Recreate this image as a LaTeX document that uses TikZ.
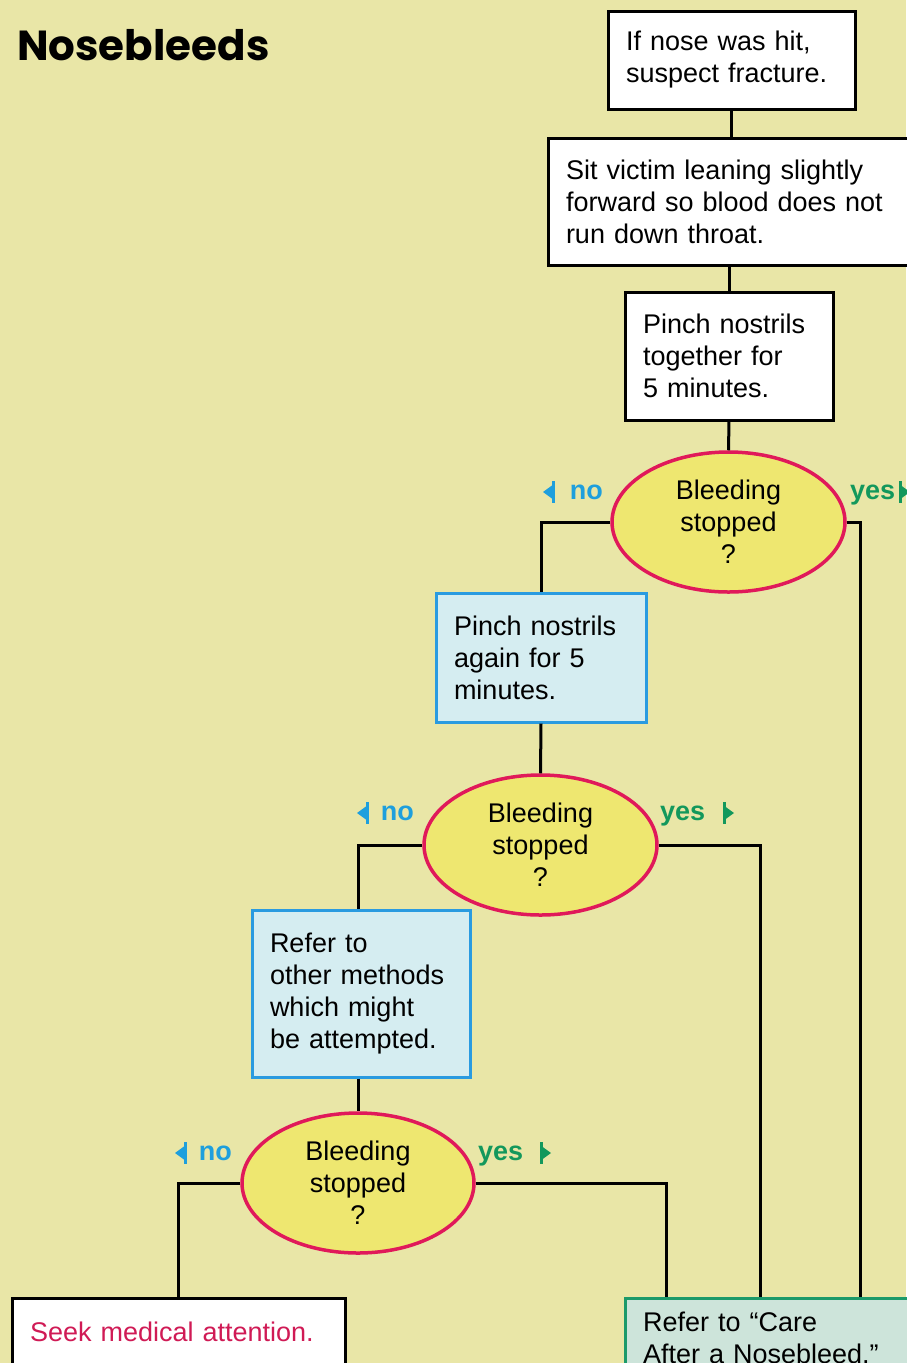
\documentclass[tikz,border=0pt]{standalone}
\usepackage{fontspec}
\setmainfont{Liberation Sans}
\newfontfamily\titlefont{Poppins}
\usetikzlibrary{shapes.geometric}
\definecolor{paper}{HTML}{E9E6A7}
\definecolor{qfill}{HTML}{EEE770}
\definecolor{qline}{HTML}{E0195A}
\definecolor{cyanfill}{HTML}{D5EDF1}
\definecolor{cyanline}{HTML}{2A9BE0}
\definecolor{greenfill}{HTML}{CDE4DA}
\definecolor{greenline}{HTML}{1C9A6A}
\definecolor{nocol}{HTML}{1E9FDD}
\definecolor{yescol}{HTML}{13985C}
\definecolor{alertcol}{HTML}{D01A55}
\tikzset{
  body/.style={font=\fontsize{27}{32}\selectfont},
  stepbox/.style={body, draw=black, line width=3pt, fill=white, align=left,
    inner xsep=18pt, inner ysep=0pt},
  altbox/.style={stepbox, draw=cyanline, fill=cyanfill},
  endbox/.style={stepbox, draw=greenline, fill=greenfill},
  question/.style={body, ellipse, draw=qline, line width=3.5pt, fill=qfill,
    inner sep=0pt, align=center},
  link/.style={line width=3pt, draw=black},
  answer/.style={font=\bfseries\fontsize{27}{32}\selectfont, inner sep=0pt},
  % small pointer drawn in front of "no" (left) and after "yes" (right)
  nomark/.pic={
    \fill[nocol] (0,0) -- (11,-8) -- (11,8) -- cycle;
    \draw[nocol, line width=3pt] (10,-11) -- (10,11);
  },
  yesmark/.pic={
    \fill[yescol] (0,0) -- (-11,-8) -- (-11,8) -- cycle;
    \draw[yescol, line width=3pt] (-10,-11) -- (-10,11);
  },
}
\begin{document}
\begin{tikzpicture}[x=1pt, y=-1pt]
\fill[paper] (0,0) rectangle (906,1363);
\useasboundingbox (0,0) rectangle (906,1363);

\node[anchor=west, inner sep=0pt, font=\titlefont\bfseries\fontsize{42}{46}\selectfont] (title) at (17,45) {Nosebleeds};

% main column
\node[stepbox, text width=211pt, minimum height=98pt] (b1) at (731.5,60)
  {If nose was hit,\\suspect fracture.};
\node[stepbox, text width=328pt, minimum height=127pt] (b2) at (730,201.5)
  {Sit victim leaning slightly\\forward so blood does not\\run down throat.};
\node[stepbox, text width=172pt, minimum height=128pt] (b3) at (729,356)
  {Pinch nostrils\\together for\\5 minutes.};
\node[question, minimum width=233pt, minimum height=140pt] (e1) at (728.5,522)
  {Bleeding\\stopped\\?};

% second try
\node[altbox, text width=174pt, minimum height=129pt] (b4) at (541,657.5)
  {Pinch nostrils\\again for 5\\minutes.};
\node[question, minimum width=233pt, minimum height=140pt] (e2) at (540.5,845)
  {Bleeding\\stopped\\?};

% third try
\node[altbox, text width=182pt, minimum height=167pt] (b5) at (361,993.5)
  {Refer to\\other methods\\which might\\be attempted.};
\node[question, minimum width=232pt, minimum height=140pt] (e3) at (358,1183)
  {Bleeding\\stopped\\?};

% outcomes
\node[stepbox, text width=297pt, minimum height=68pt, text=alertcol] (b6) at (178.5,1332)
  {Seek medical attention.};
\node[endbox, text width=251pt, minimum height=80pt] (b7) at (768.5,1338)
  {Refer to ``Care\\After a Nosebleed.''};

% entry points on the outcome box
\coordinate (in1) at ([xshift=237pt]b7.north west);
\coordinate (in2) at ([xshift=137pt]b7.north west);
\coordinate (in3) at ([xshift=43pt]b7.north west);

% answer labels
\node[answer, text=nocol, anchor=east] (n1) at (603,492) {no};
\pic at (543,492) {nomark};
\node[answer, text=yescol, anchor=west] (y1) at (850,495) {yes};
\pic at (910,492) {yesmark};
\node[answer, text=nocol, anchor=east] (n2) at (414,813) {no};
\pic at (357,813) {nomark};
\node[answer, text=yescol, anchor=west] (y2) at (660,816) {yes};
\pic at (734,813) {yesmark};
\node[answer, text=nocol, anchor=east] (n3) at (232,1153) {no};
\pic at (175,1153) {nomark};
\node[answer, text=yescol, anchor=west] (y3) at (478,1156) {yes};
\pic at (551,1153) {yesmark};

% connectors
\draw[link] (b1.south) -- (b1.south |- b2.north);
\draw[link] (b3.north |- b2.south) -- (b3.north);
\draw[link] (b3.south) -- (e1.north);
\draw[link] (e1.west) -| (b4.north);
\draw[link] (e1.east) -| (in1);
\draw[link] (b4.south) -- (e2.north);
\draw[link] (e2.west) -| (e3.north |- b5.north);
\draw[link] (e2.east) -| (in2);
\draw[link] (e3.north |- b5.south) -- (e3.north);
\draw[link] (e3.west) -| (b6.north);
\draw[link] (e3.east) -| (in3);
\end{tikzpicture}
\end{document}
